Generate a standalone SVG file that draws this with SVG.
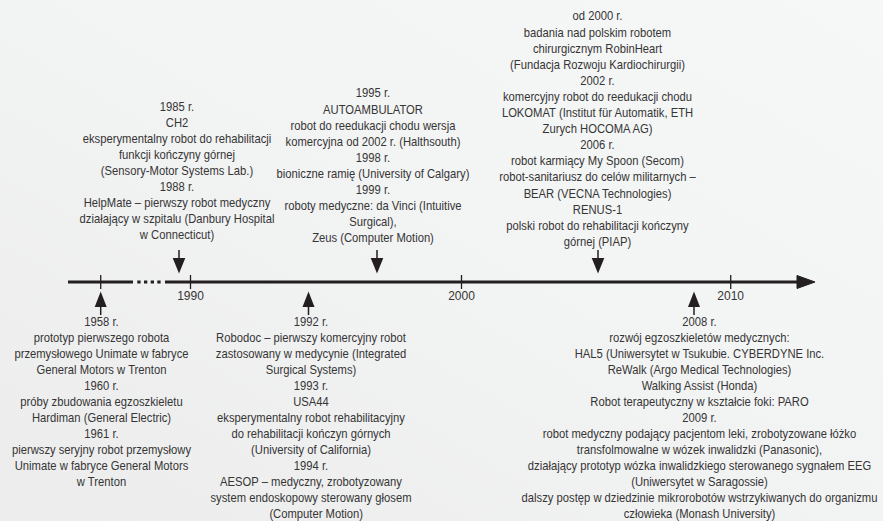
<svg xmlns="http://www.w3.org/2000/svg" width="883" height="521" viewBox="0 0 883 521">
<style>
.t{font-family:"Liberation Sans",Arial,sans-serif;font-size:13px;fill:#353535;text-anchor:middle}
.yl{font-family:"Liberation Sans",Arial,sans-serif;font-size:12px;fill:#353535;text-anchor:middle}
.ax{stroke:#231f20;stroke-width:3;fill:none}
.tk{stroke:#231f20;stroke-width:1.3}
.ar{fill:#231f20;stroke:#231f20}
</style>
<defs>
<linearGradient id="bg" x1="0" y1="1" x2="1" y2="0">
<stop offset="0" stop-color="#ececec"/>
<stop offset="0.6" stop-color="#f3f4f4"/>
<stop offset="1" stop-color="#f6f7f7"/>
</linearGradient>
<g id="darr"><line x1="0" y1="250" x2="0" y2="259" stroke="#231f20" stroke-width="1.5"/><polygon points="-6.3,258 6.3,258 0,273.5" fill="#231f20"/></g>
<g id="uarr"><polygon points="0,291.5 -6,307 6,307" fill="#231f20"/><line x1="0" y1="306" x2="0" y2="315" stroke="#231f20" stroke-width="1.5"/></g>
</defs>
<rect width="883" height="521" fill="url(#bg)"/>

<g id="axis">
<line class="ax" x1="68" y1="282" x2="133" y2="282"/>
<rect x="137.3" y="280.5" width="3.3" height="3" fill="#231f20"/>
<rect x="144" y="280.5" width="3.3" height="3" fill="#231f20"/>
<rect x="150.7" y="280.5" width="3.3" height="3" fill="#231f20"/>
<rect x="157.3" y="280.5" width="3.3" height="3" fill="#231f20"/>
<line class="ax" x1="165" y1="282" x2="800" y2="282"/>
<polygon class="ar" points="797,275.5 815,282 797,288.5"/>
<line class="tk" x1="100.7" y1="275" x2="100.7" y2="289"/>
<line class="tk" x1="190.5" y1="275" x2="190.5" y2="289"/>
<line class="tk" x1="461.5" y1="275" x2="461.5" y2="289"/>
<line class="tk" x1="730.7" y1="275" x2="730.7" y2="289"/>
<text class="yl" x="190.5" y="299.5">1990</text>
<text class="yl" x="461.5" y="299.5">2000</text>
<text class="yl" x="730.7" y="299.5">2010</text>
</g>

<g id="connectors">
<use href="#uarr" x="100.7"/>
<use href="#darr" x="179"/>
<use href="#uarr" x="308.5"/>
<use href="#darr" x="377"/>
<use href="#darr" x="598"/>
<use href="#uarr" x="694"/>
</g>

<g id="node-1985" transform="translate(177 0) scale(0.865 1)">
<text class="t" x="0" y="111.5">1985 r.</text>
<text class="t" x="0" y="127.5">CH2</text>
<text class="t" x="0" y="143.5">eksperymentalny robot do rehabilitacji</text>
<text class="t" x="0" y="159.5">funkcji kończyny górnej</text>
<text class="t" x="0" y="175.5">(Sensory-Motor Systems Lab.)</text>
<text class="t" x="0" y="191.5">1988 r.</text>
<text class="t" x="0" y="207.5">HelpMate – pierwszy robot medyczny</text>
<text class="t" x="0" y="223.5">działający w szpitalu  (Danbury Hospital</text>
<text class="t" x="0" y="239.5">w Connecticut)</text>
</g>

<g id="node-1995" transform="translate(373 0) scale(0.865 1)">
<text class="t" x="0" y="97.5">1995 r.</text>
<text class="t" x="0" y="113.6">AUTOAMBULATOR</text>
<text class="t" x="0" y="129.7">robot do reedukacji chodu wersja</text>
<text class="t" x="0" y="145.8">komercyjna od 2002 r. (Halthsouth)</text>
<text class="t" x="0" y="161.9">1998 r.</text>
<text class="t" x="0" y="178">bioniczne ramię (University of Calgary)</text>
<text class="t" x="0" y="194.1">1999 r.</text>
<text class="t" x="0" y="210.2">roboty medyczne: da Vinci (Intuitive</text>
<text class="t" x="0" y="226.3">Surgical),</text>
<text class="t" x="0" y="242.4">Zeus (Computer Motion)</text>
</g>

<g id="node-2000" transform="translate(597.5 0) scale(0.865 1)">
<text class="t" x="0" y="20.5">od 2000 r.</text>
<text class="t" x="0" y="36.6">badania nad polskim robotem</text>
<text class="t" x="0" y="52.7">chirurgicznym RobinHeart</text>
<text class="t" x="0" y="68.8">(Fundacja Rozwoju Kardiochirurgii)</text>
<text class="t" x="0" y="84.9">2002 r.</text>
<text class="t" x="0" y="101">komercyjny robot do reedukacji chodu</text>
<text class="t" x="0" y="117.1">LOKOMAT (Institut für Automatik, ETH</text>
<text class="t" x="0" y="133.2">Zurych HOCOMA AG)</text>
<text class="t" x="0" y="149.3">2006 r.</text>
<text class="t" x="0" y="165.4">robot karmiący My Spoon (Secom)</text>
<text class="t" x="0" y="181.5">robot-sanitariusz do celów militarnych –</text>
<text class="t" x="0" y="197.6">BEAR (VECNA Technologies)</text>
<text class="t" x="0" y="213.7">RENUS-1</text>
<text class="t" x="0" y="229.8">polski robot do rehabilitacji kończyny</text>
<text class="t" x="0" y="245.9">górnej (PIAP)</text>
</g>

<g id="node-1958" transform="translate(101.5 0) scale(0.865 1)">
<text class="t" x="0" y="326.4">1958 r.</text>
<text class="t" x="0" y="342.4">prototyp pierwszego robota</text>
<text class="t" x="0" y="358.4">przemysłowego Unimate w fabryce</text>
<text class="t" x="0" y="374.4">General Motors w Trenton</text>
<text class="t" x="0" y="390.4">1960 r.</text>
<text class="t" x="0" y="406.4">próby zbudowania egzoszkieletu</text>
<text class="t" x="0" y="422.4">Hardiman (General Electric)</text>
<text class="t" x="0" y="438.4">1961 r.</text>
<text class="t" x="0" y="454.4">pierwszy seryjny robot przemysłowy</text>
<text class="t" x="0" y="470.4">Unimate w fabryce General Motors</text>
<text class="t" x="0" y="486.4">w Trenton</text>
</g>

<g id="node-1992" transform="translate(311 0) scale(0.865 1)">
<text class="t" x="0" y="326.4">1992 r.</text>
<text class="t" x="0" y="342.4">Robodoc – pierwszy komercyjny robot</text>
<text class="t" x="0" y="358.4">zastosowany w medycynie (Integrated</text>
<text class="t" x="0" y="374.4">Surgical Systems)</text>
<text class="t" x="0" y="390.4">1993 r.</text>
<text class="t" x="0" y="406.4">USA44</text>
<text class="t" x="0" y="422.4">eksperymentalny robot rehabilitacyjny</text>
<text class="t" x="0" y="438.4">do rehabilitacji kończyn górnych</text>
<text class="t" x="0" y="454.4">(University of California)</text>
<text class="t" x="0" y="470.4">1994 r.</text>
<text class="t" x="0" y="486.4">AESOP – medyczny, zrobotyzowany</text>
<text class="t" x="0" y="502.4">system endoskopowy sterowany głosem</text>
<text class="t" x="6" y="518.4">(Computer Motion)</text>
</g>

<g id="node-2008" transform="translate(699.5 0) scale(0.865 1)">
<text class="t" x="0" y="326.4">2008 r.</text>
<text class="t" x="0" y="342.4">rozwój egzoszkieletów medycznych:</text>
<text class="t" x="0" y="358.4">HAL5 (Uniwersytet w Tsukubie. CYBERDYNE Inc.</text>
<text class="t" x="0" y="374.4">ReWalk (Argo Medical Technologies)</text>
<text class="t" x="0" y="390.4">Walking Assist (Honda)</text>
<text class="t" x="0" y="406.4">Robot terapeutyczny w kształcie foki: PARO</text>
<text class="t" x="0" y="422.4">2009 r.</text>
<text class="t" x="0" y="438.4">robot medyczny podający pacjentom leki, zrobotyzowane łóżko</text>
<text class="t" x="0" y="454.4">transfolmowalne w wózek inwalidzki (Panasonic),</text>
<text class="t" x="0" y="470.4">działający prototyp wózka inwalidzkiego sterowanego sygnałem EEG</text>
<text class="t" x="0" y="486.4">(Uniwersytet w Saragossie)</text>
<text class="t" x="0" y="502.4">dalszy postęp w dziedzinie mikrorobotów wstrzykiwanych do organizmu</text>
<text class="t" x="0" y="518.4">człowieka (Monash University)</text>
</g>
</svg>
